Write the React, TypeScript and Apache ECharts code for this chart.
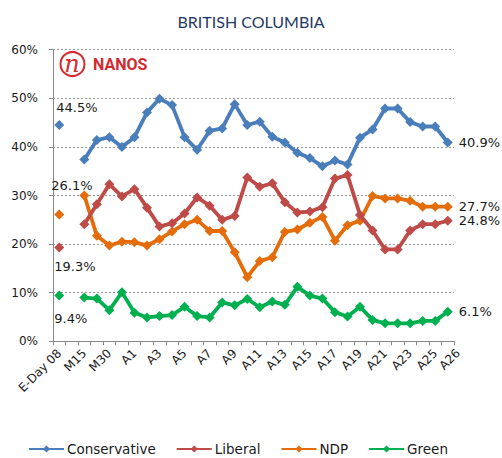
import React, { useEffect, useRef } from "react";
import * as echarts from "echarts";

const categories: string[] = [
  "E-Day 08", "", "M15", "", "M30", "",
  "A1", "A2", "A3", "A4", "A5", "A6", "A7", "A8", "A9", "A10",
  "A11", "A12", "A13", "A14", "A15", "A16", "A17", "A18", "A19", "A20",
  "A21", "A22", "A23", "A24", "A25", "A26",
];

const conservative: (number | null)[] = [
  44.5, null, 37.4, 41.4, 42.0, 40.0, 42.0, 47.1, 49.9, 48.6, 42.0, 39.4, 43.3, 43.8, 48.8, 44.5,
  45.2, 42.1, 40.9, 38.8, 37.7, 36.0, 37.2, 36.4, 41.9, 43.6, 47.9, 47.9, 45.1, 44.2, 44.2, 40.9,
];
const liberal: (number | null)[] = [
  19.3, null, 24.1, 28.2, 32.3, 29.8, 31.3, 27.5, 23.6, 24.3, 26.3, 29.6, 27.9, 25.0, 25.8, 33.7,
  31.8, 32.5, 28.6, 26.5, 26.7, 27.6, 33.5, 34.2, 26.0, 22.8, 18.9, 18.9, 22.8, 24.1, 24.1, 24.8,
];
const ndp: (number | null)[] = [
  26.1, null, 30.0, 21.7, 19.7, 20.5, 20.4, 19.7, 21.0, 22.6, 24.1, 25.0, 22.7, 22.7, 18.3, 13.2,
  16.5, 17.3, 22.5, 23.0, 24.4, 25.6, 20.7, 23.9, 24.8, 29.9, 29.4, 29.4, 28.9, 27.7, 27.7, 27.7,
];
const green: (number | null)[] = [
  9.4, null, 9.0, 8.8, 6.4, 10.1, 5.9, 4.9, 5.2, 5.4, 7.1, 5.2, 4.9, 8.0, 7.4, 8.7,
  7.0, 8.2, 7.5, 11.2, 9.4, 8.8, 6.0, 5.1, 7.1, 4.4, 3.7, 3.7, 3.7, 4.2, 4.2, 6.1,
];

const seriesNames = ["Conservative", "Liberal", "NDP", "Green"];
const colors = ["#4A7EBB", "#BE4B48", "#E46C0A", "#00B050"];
const yTicks = { min: 0, max: 60, interval: 10 };

const FONT = "DejaVu Sans";
const TXT = "#1a1a1a";

// label placement for first (E-Day) point of each series
const firstLabelStyle: any[] = [
  { position: "top", align: "left", offset: [-3, -1] },
  { position: "bottom", align: "left", offset: [-5, 2] },
  { position: "top", align: "left", offset: [-8, -12] },
  { position: "bottom", align: "left", offset: [-5, 6] },
];

const fmt = (p: any) => {
  const v = Array.isArray(p.value) ? p.value[1] : p.value;
  return Number(v).toFixed(1) + "%";
};

function buildData(values: (number | null)[], si: number) {
  const last = values.length - 1;
  return values.map((v, i) => {
    if (i === 0) {
      return {
        value: v,
        label: {
          show: true,
          formatter: fmt,
          fontFamily: FONT,
          fontSize: 13,
          color: TXT,
          ...firstLabelStyle[si],
        },
      };
    }
    if (i === last) {
      return {
        value: v,
        label: {
          show: true,
          position: "right",
          distance: 6,
          formatter: fmt,
          fontFamily: FONT,
          fontSize: 13,
          color: TXT,
        },
      };
    }
    return v;
  });
}

export default function App() {
  const ref = useRef<HTMLDivElement>(null);
  useEffect(() => {
    if (!ref.current) return;
    const chart = echarts.init(ref.current, null, { renderer: "svg" });
    const allSeries = [conservative, liberal, ndp, green];
    const lastIdx = categories.length - 1;
    chart.setOption({
      animation: false,
      backgroundColor: "#ffffff",
      title: {
        text: "BRITISH COLUMBIA",
        left: "center",
        top: 8,
        textStyle: {
          fontFamily: "Lato",
          fontSize: 16,
          fontWeight: "normal",
          color: "#1F3864",
        },
      },
      graphic: [
        {
          type: "circle",
          shape: { cx: 72.5, cy: 64, r: 12 },
          style: { fill: "none", stroke: "#D42A2F", lineWidth: 2 },
        },
        {
          type: "text",
          x: 72,
          y: 64,
          style: {
            text: "n",
            font: "italic 24px 'DejaVu Serif', serif",
            fill: "#D42A2F",
            align: "center",
            verticalAlign: "middle",
          },
        },
        {
          type: "text",
          x: 93,
          y: 64,
          style: {
            text: "NANOS",
            font: "bold 16px Roboto",
            fill: "#D42A2F",
            verticalAlign: "middle",
          },
        },
      ],
      legend: {
        data: seriesNames,
        left: 28,
        top: 442,
        itemWidth: 35,
        itemHeight: 9,
        itemGap: 20,
        padding: 0,
        textStyle: { fontFamily: FONT, fontSize: 13.5, color: TXT, padding: [0, 0, 0, -2] },
      },
      grid: { left: 53, right: 48, top: 49.7, bottom: 116.7, containLabel: false },
      xAxis: {
        type: "category",
        data: categories,
        boundaryGap: true,
        axisLine: { lineStyle: { color: "#888", width: 1 } },
        axisTick: { show: true, interval: 0, length: 4, lineStyle: { color: "#888" } },
        axisLabel: {
          interval: 0,
          formatter: (val: string, i: number) => {
            if (i === lastIdx) return "{last|" + val + "}";
            return i % 2 === 0 ? val : "";
          },
          rich: {
            last: {
              fontFamily: FONT,
              fontSize: 12,
              color: TXT,
              width: 16,
              align: "left",
              padding: [14, 0, 0, 0],
            },
          },
          hideOverlap: false,
          rotate: 45,
          margin: 10,
          fontFamily: FONT,
          fontSize: 12,
          color: TXT,
        },
      },
      yAxis: {
        type: "value",
        min: yTicks.min,
        max: yTicks.max,
        interval: yTicks.interval,
        axisLine: { show: true, lineStyle: { color: "#888", width: 1 } },
        axisTick: { show: true, length: 4, lineStyle: { color: "#888" } },
        axisLabel: {
          formatter: "{value}%",
          margin: 15,
          fontFamily: FONT,
          fontSize: 12,
          color: TXT,
        },
        splitLine: {
          show: true,
          lineStyle: { color: "#999", type: [2, 2], width: 1 },
        },
      },
      series: allSeries.map((vals, si) => ({
        name: seriesNames[si],
        type: "line",
        data: buildData(vals, si),
        connectNulls: false,
        symbol: "diamond",
        symbolSize: 10,
        showAllSymbol: true,
        lineStyle: { color: colors[si], width: 3.8 },
        itemStyle: { color: colors[si] },
        z: 10 - si,
      })),
    });
    return () => chart.dispose();
  }, []);
  return (
    <div
      ref={ref}
      style={{ position: "fixed", left: 0, top: 0, width: 502, height: 458, background: "#fff" }}
    />
  );
}
